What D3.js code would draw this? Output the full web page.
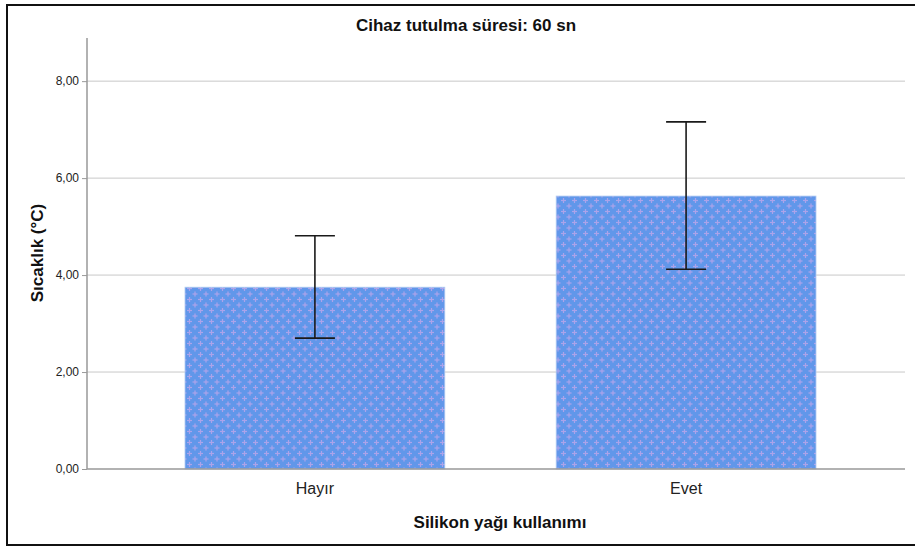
<!DOCTYPE html>
<html>
<head>
<meta charset="utf-8">
<script src="https://cdn.jsdelivr.net/npm/d3@7"></script>
<style>
  html, body { margin: 0; padding: 0; background: #fff; }
  svg { display: block; font-family: "Liberation Sans", Arial, sans-serif; }
</style>
</head>
<body>
<svg id="chart" width="915" height="548"></svg>
<script>
// Mean temperature change per group, with error bar limits
const categories = ["Hayır", "Evet"];
const means = [3.75, 5.63];
const errLow = [2.70, 4.12];
const errHigh = [4.81, 7.16];
const yTicks = [0, 2, 4, 6, 8];
const yTickLabels = ["0,00", "2,00", "4,00", "6,00", "8,00"];

const svg = d3.select("#chart");
const W = 915, H = 548;
const plot = { left: 87, right: 905, top: 38, bottom: 469 };

// outer frame
svg.append("path")
  .attr("d", `M${W + 2},5 H7 V545 H${W + 2}`)
  .attr("fill", "none").attr("stroke", "#111").attr("stroke-width", 2);

// cross hatch pattern for bar fill
const defs = svg.append("defs");
const pat = defs.append("pattern")
  .attr("id", "crossFill").attr("patternUnits", "userSpaceOnUse")
  .attr("width", 11).attr("height", 11);
pat.append("rect").attr("width", 11).attr("height", 11).attr("fill", "#6197ea");
const crossColor = "#aca3ea";
[[2.5, 2.5], [8, 8]].forEach(([cx, cy]) => {
  pat.append("rect").attr("x", cx - 2.5).attr("y", cy - 0.6).attr("width", 5).attr("height", 1.2).attr("fill", crossColor);
  pat.append("rect").attr("x", cx - 0.6).attr("y", cy - 2.5).attr("width", 1.2).attr("height", 5).attr("fill", crossColor);
});

const y = d3.scaleLinear().domain([0, 8.89]).range([plot.bottom, plot.top]);
const x = d3.scaleBand().domain(categories)
  .range([plot.left, 914]).paddingInner(0.3).paddingOuter(0.264);

// gridlines
svg.append("g").selectAll("line").data(yTicks.filter(d => d > 0)).join("line")
  .attr("x1", plot.left).attr("x2", plot.right)
  .attr("y1", d => y(d)).attr("y2", d => y(d))
  .attr("stroke", "#c8c8c8").attr("stroke-width", 1);

// y axis
const yAxis = d3.axisLeft(y).tickValues(yTicks)
  .tickFormat((d, i) => yTickLabels[i]).tickSize(5).tickPadding(3);
const gy = svg.append("g").attr("transform", `translate(${plot.left},0)`).call(yAxis);
gy.select(".domain").attr("d", `M0,${plot.top}V${plot.bottom}`).attr("stroke", "#999").attr("stroke-width", 1.5);
gy.selectAll(".tick line").attr("stroke", "#999");
gy.selectAll(".tick text").attr("font-size", 12).attr("fill", "#222")
  .attr("font-family", "'Liberation Sans', Arial, sans-serif");

// bars
svg.append("g").selectAll("rect").data(categories).join("rect")
  .attr("x", d => x(d)).attr("width", x.bandwidth())
  .attr("y", (d, i) => y(means[i])).attr("height", (d, i) => y(0) - y(means[i]))
  .attr("fill", "url(#crossFill)")
  .attr("stroke", "#b4ccf2").attr("stroke-width", 0.8);

// x axis baseline
svg.append("line")
  .attr("x1", plot.left).attr("x2", plot.right)
  .attr("y1", y(0)).attr("y2", y(0))
  .attr("stroke", "#999").attr("stroke-width", 1.5);

// error bars
const eb = svg.append("g").attr("stroke", "#1a1a1a").attr("stroke-width", 1.6);
categories.forEach((c, i) => {
  const cx = x(c) + x.bandwidth() / 2;
  eb.append("line").attr("x1", cx).attr("x2", cx).attr("y1", y(errLow[i])).attr("y2", y(errHigh[i]));
  eb.append("line").attr("x1", cx - 20).attr("x2", cx + 20).attr("y1", y(errHigh[i])).attr("y2", y(errHigh[i]));
  eb.append("line").attr("x1", cx - 20).attr("x2", cx + 20).attr("y1", y(errLow[i])).attr("y2", y(errLow[i]));
});

// category labels
svg.append("g").selectAll("text").data(categories).join("text")
  .attr("x", d => x(d) + x.bandwidth() / 2).attr("y", 494)
  .attr("text-anchor", "middle").attr("font-size", 16).attr("fill", "#222")
  .text(d => d);

// titles
svg.append("text").attr("x", 466).attr("y", 31).attr("text-anchor", "middle")
  .attr("font-size", 17).attr("font-weight", "bold").attr("fill", "#111")
  .text("Cihaz tutulma süresi: 60 sn");
svg.append("text").attr("x", 500).attr("y", 528).attr("text-anchor", "middle")
  .attr("font-size", 17).attr("font-weight", "bold").attr("fill", "#111")
  .text("Silikon yağı kullanımı");
svg.append("text").attr("transform", "translate(43,253) rotate(-90)")
  .attr("text-anchor", "middle")
  .attr("font-size", 17).attr("font-weight", "bold").attr("fill", "#111")
  .text("Sıcaklık (°C)");
</script>
</body>
</html>
